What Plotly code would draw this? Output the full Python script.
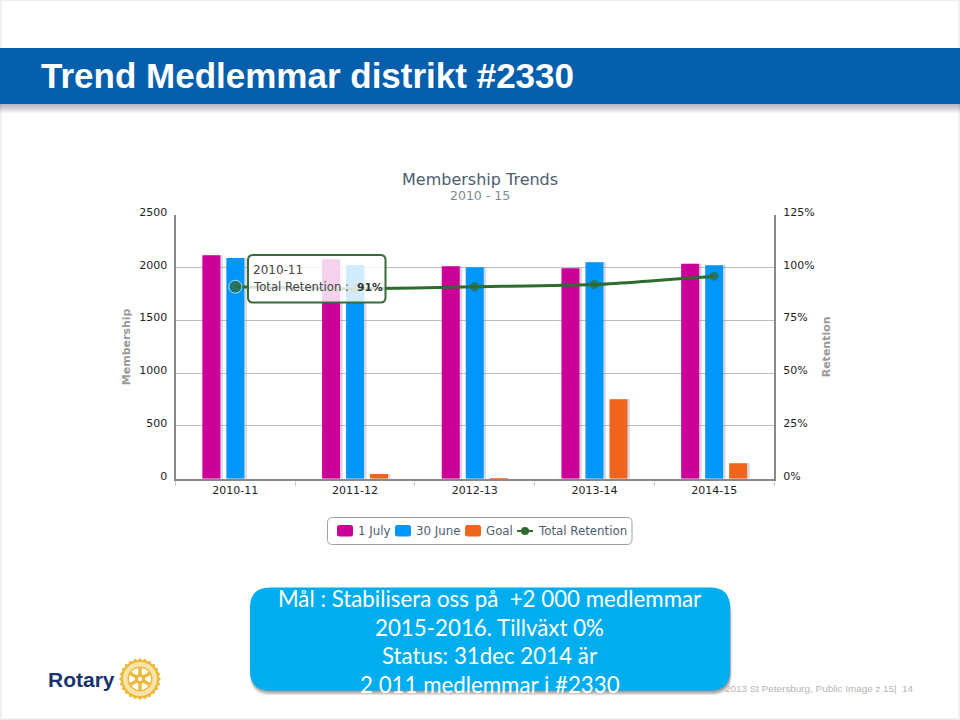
import numpy as np
import plotly.graph_objects as go

categories = ["2010-11", "2011-12", "2012-13", "2013-14", "2014-15"]
july_1 = [2118, 2080, 2015, 1995, 2038]
june_30 = [2092, 2025, 2005, 2052, 2023]
goal = [0, 45, 5, 753, 146]
retention = [91, 90, 91, 92, 96]
left_ticks = [0, 500, 1000, 1500, 2000, 2500]
right_ticks = [0, 25, 50, 75, 100, 125]
right_labels = ["0%", "25%", "50%", "75%", "100%", "125%"]

W, H = 960, 720
PL, PR, PT, PB = 175.5, 774, 215, 478.7
SLOT = (PR - PL) / 5

def X(p): return p / W
def Y(p): return 1 - p / H

def rrect(x0, y0, x1, y1, r):
    a, b, c, d = X(x0), Y(y0), X(x1), Y(y1)
    rx, ry = r / W, r / H
    return (f"M{a+rx},{b} L{c-rx},{b} Q{c},{b} {c},{b-ry} L{c},{d+ry} Q{c},{d} {c-rx},{d} "
            f"L{a+rx},{d} Q{a},{d} {a},{d+ry} L{a},{b-ry} Q{a},{b} {a+rx},{b} Z")

def rect(x0, y0, x1, y1, fill, layer="below"):
    return dict(type="rect", xref="paper", yref="paper", x0=X(x0), x1=X(x1), y0=Y(y0), y1=Y(y1),
                fillcolor=fill, line_width=0, layer=layer)

def rpath(x0, y0, x1, y1, r, fill, line=None, layer="below"):
    return dict(type="path", xref="paper", yref="paper", path=rrect(x0, y0, x1, y1, r), fillcolor=fill,
                line=line or dict(width=0), layer=layer)

MAGENTA, BLUE, ORANGE, GREEN = "#CC0099", "#0096FA", "#F0651E", "#2F6B2F"

fig = go.Figure()
bw = 18 / SLOT
series = [("1 July", july_1, MAGENTA, -33), ("30 June", june_30, BLUE, -9), ("Goal", goal, ORANGE, 15)]
for name, vals, color, off in series:
    fig.add_bar(x=categories, y=vals, width=bw, offset=(off + 2.5) / SLOT,
                marker=dict(color="rgba(150,150,160,0.35)", line_width=0), showlegend=False, hoverinfo="skip")
for name, vals, color, off in series:
    fig.add_bar(x=categories, y=vals, name=name, width=bw, offset=off / SLOT,
                marker=dict(color=color, line_width=0), showlegend=False)
fig.add_scatter(x=categories, y=retention, name="Total Retention", yaxis="y2", mode="lines+markers",
                line=dict(color=GREEN, width=3, shape="spline", smoothing=0.5),
                marker=dict(color=GREEN, size=[13, 9, 9, 9, 9],
                            line=dict(color="#FFFFFF", width=[1, 0, 0, 0, 0])), showlegend=False)

shapes = [rect(0, 0, 960, 720, "#FFFFFF")]
shapes += [rect(0, 0, 1.5, 720, "#EEEEEE"), rect(0, 718.5, 960, 720, "#E8E8E8"),
           rect(958.5, 0, 960, 720, "#EEEEEE"), rect(0, 0, 960, 1, "#EEEEEE")]
for i in range(9):
    shapes.append(rect(0, 104, 960, 104 + (9 - i), "rgba(110,120,135,0.07)"))
shapes.append(rect(0, 48, 960, 104, "#065FAD"))

# blue message box and its soft shadow
for i in range(5):
    shapes.append(rpath(250 + i * 0.4, 592, 730 + (4 - i) * 0.4, 695 - i, 20, "rgba(60,60,60,0.14)"))
shapes.append(rpath(250, 587.5, 730, 690.5, 20, "#00AEEF"))

# legend
shapes.append(rpath(327.5, 517.5, 632, 544.5, 5, "rgba(0,0,0,0)", dict(color="#A0A0A0", width=1)))
shapes.append(rpath(337, 525, 353, 536.5, 2.5, MAGENTA))
shapes.append(rpath(395, 525, 411, 536.5, 2.5, BLUE))
shapes.append(rpath(465, 525, 481, 536.5, 2.5, ORANGE))
shapes.append(dict(type="line", xref="paper", yref="paper", x0=X(517), x1=X(533), y0=Y(531), y1=Y(531),
                   line=dict(color=GREEN, width=2), layer="below"))
shapes.append(dict(type="circle", xref="paper", yref="paper", x0=X(521), x1=X(529), y0=Y(535), y1=Y(527),
                   fillcolor=GREEN, line_width=0, layer="below"))
# tooltip
shapes.append(rpath(248, 255, 385.5, 302.5, 5, "rgba(255,255,255,0.82)", dict(color="#3A6B3A", width=2), "above"))

# Rotary wheel
cx, cy, R = 140, 679, 21
GOLD = "#EDB93C"
pts = []
teeth = 24
for k in range(teeth * 2):
    t = np.pi * k / teeth
    r = R if k % 2 == 0 else R - 2
    pts.append(f"{X(cx + r*np.cos(t)):.5f},{Y(cy + r*np.sin(t)):.5f}")
gear = "M" + " L".join(pts) + " Z"
shapes.append(dict(type="path", xref="paper", yref="paper", path=gear, fillcolor=GOLD, line_width=0, layer="below"))
def circ(r, fill):
    return dict(type="circle", xref="paper", yref="paper", x0=X(cx-r), x1=X(cx+r), y0=Y(cy+r), y1=Y(cy-r),
                fillcolor=fill, line_width=0, layer="below")
shapes += [circ(17, "#F8E3AC"), circ(12.5, GOLD), circ(11, "#FFFFFF")]
for k in range(6):
    t = np.pi * k / 3 + np.pi / 6
    shapes.append(dict(type="line", xref="paper", yref="paper", x0=X(cx), y0=Y(cy),
                       x1=X(cx + 12*np.cos(t)), y1=Y(cy + 12*np.sin(t)),
                       line=dict(color=GOLD, width=3.5), layer="below"))
shapes += [circ(5, GOLD), circ(2, "#FFFFFF")]

def note(text, x, y, size, color, family, anchor="left", bold=False):
    return dict(text=f"<b>{text}</b>" if bold else text, xref="paper", yref="paper", x=X(x), y=Y(y),
                xanchor=anchor, yanchor="middle", showarrow=False,
                font=dict(size=size, color=color, family=family))

DV = "DejaVu Sans"
LS = "Liberation Sans"
LEG = "#4D5D6D"
ann = [
    note("Trend Medlemmar distrikt #2330", 39, 76, 35, "#FFFFFF", LS, bold=True),
    note("Membership Trends", 480, 179, 16, "#4D5D6D", DV, "center"),
    note("2010 - 15", 480, 196, 12.5, "#7C8A96", DV, "center"),
    note("2010-11", 251, 270, 12, "#444444", DV),
    note("Total Retention :", 251, 287, 11.7, "#444444", DV),
    note("91%", 355, 287, 10.8, "#333333", DV, bold=True),
    note("1 July", 356, 531, 11.8, LEG, DV),
    note("30 June", 414, 531, 11.8, LEG, DV),
    note("Goal", 484, 531, 11.8, LEG, DV),
    note("Total Retention", 536, 531, 11.8, LEG, DV),
    note("Mål : Stabilisera oss på  +2 000 medlemmar", 490, 598, 22.3, "#FFFFFF", "Lato", "center"),
    note("2015-2016. Tillväxt 0%", 490, 627, 22.3, "#FFFFFF", "Lato", "center"),
    note("Status: 31dec 2014 är", 490, 655, 22.3, "#FFFFFF", "Lato", "center"),
    note("2 011 medlemmar i #2330", 490, 684, 22.3, "#FFFFFF", "Lato", "center"),
    note("2013 St Petersburg, Public Image z 15|  14", 723, 688, 9.9, "#B4B4B4", LS),
    note("Rotary", 46, 679, 21, "#17336B", LS, bold=True),
]

fig.update_layout(
    width=W, height=H, margin=dict(l=0, r=0, t=0, b=0), autosize=False,
    paper_bgcolor="#FFFFFF", plot_bgcolor="rgba(0,0,0,0)",
    barmode="overlay", shapes=shapes, annotations=ann, hovermode="closest", showlegend=False,
    font=dict(family=DV, size=11, color="#222222"),
    xaxis=dict(domain=[X(PL), X(PR)], type="category", range=[-0.5, 4.5], tickson="boundaries",
               ticks="outside", ticklen=5, tickcolor="#C8C8C8", tickwidth=1, showgrid=False,
               showline=True, linecolor="#888888", linewidth=2, tickfont=dict(size=11, color="#222222"),
               automargin=False),
    yaxis=dict(domain=[Y(PB), Y(PT)], range=[0, 2500], tickvals=left_ticks, showgrid=True, gridcolor="#BDBDBD",
               gridwidth=1, zeroline=False, showline=True, linecolor="#888888", linewidth=2,
               ticklabelshift=-3, ticklabelstandoff=4, automargin=False, tickfont=dict(size=11, color="#222222"),
               title=dict(text="<b>Membership</b>", font=dict(size=11, color="#999999"), standoff=6)),
    yaxis2=dict(domain=[Y(PB), Y(PT)], overlaying="y", side="right", range=[0, 125], tickvals=right_ticks,
                ticktext=right_labels, showgrid=False, zeroline=False, showline=True, linecolor="#888888",
                linewidth=2, ticklabelshift=-3, ticklabelstandoff=5, automargin=False,
                tickfont=dict(size=11, color="#222222"),
                title=dict(text="<b>Retention</b>", font=dict(size=11, color="#999999"), standoff=9)),
)

fig.write_html("out.html", config=dict(displayModeBar=False),
               post_script="document.body.style.margin='0';document.body.style.overflow='hidden';")
